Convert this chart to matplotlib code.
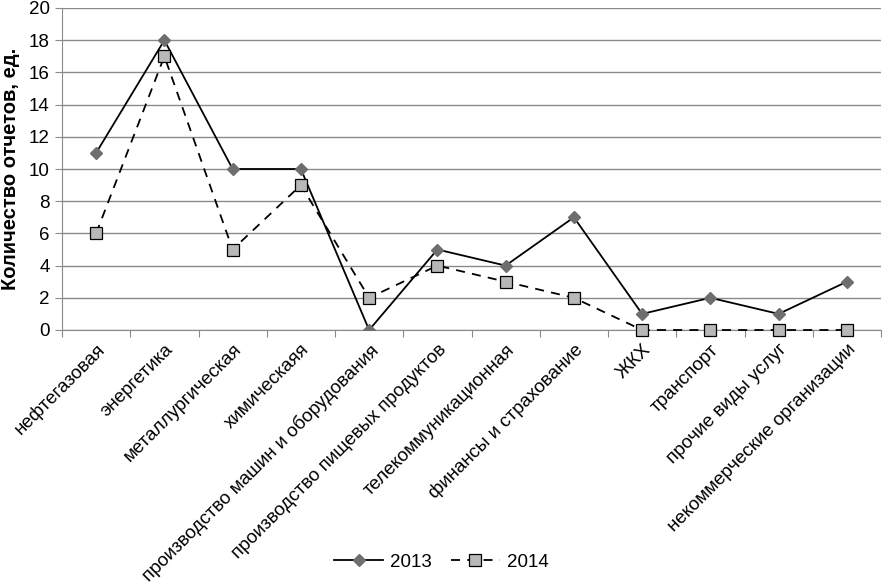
import matplotlib
matplotlib.use('Agg')
import matplotlib.pyplot as plt
import numpy as np

plt.rcParams['font.family'] = ['Liberation Sans', 'DejaVu Sans']

categories = ['нефтегазовая', 'энергетика', 'металлургическая', 'химическаяя',
              'производство машин и оборудования', 'производство пищевых продуктов',
              'телекоммуникационная', 'финансы и страхование', 'ЖКХ', 'транспорт',
              'прочие виды услуг', 'некоммерческие организации']
values2013 = [11, 18, 10, 10, 0, 5, 4, 7, 1, 2, 1, 3]
values2014 = [6, 17, 5, 9, 2, 4, 3, 2, 0, 0, 0, 0]

fig = plt.figure(figsize=(8.83, 5.86), dpi=100)
ax = fig.add_axes([62 / 883, 1 - 330 / 586, (881 - 62) / 883, (330 - 8) / 586])

x = np.arange(len(categories))
ax.plot(x, values2013, color='black', lw=1.3, marker='D', markersize=6,
        markerfacecolor='#6e6e6e', markeredgecolor='#6e6e6e', label='2013', zorder=3)
ax.plot(x, values2014, color='black', lw=1.3, ls=(0, (5, 4)), marker='s', markersize=9,
        markerfacecolor='#b8b8b8', markeredgecolor='black', markeredgewidth=0.9,
        label='2014', zorder=3, clip_on=False)

ax.set_xlim(-0.5, len(categories) - 0.5)
ax.set_ylim(0, 20)
ax.set_yticks(np.arange(0, 21, 2))
ax.yaxis.grid(True, color='#8a8a8a', lw=1)
ax.set_axisbelow(True)

ax.set_xticks(np.arange(-0.5, len(categories), 1))
ax.set_xticklabels([])
ax.set_xticks(x, minor=True)
ax.set_xticklabels(categories, minor=True, rotation=45, ha='right',
                   rotation_mode='anchor', fontsize=13.5)
ax.tick_params(axis='x', which='minor', length=0, pad=8)
ax.tick_params(axis='x', which='major', length=5, color='#8a8a8a', direction='out')
ax.tick_params(axis='y', length=5, color='#8a8a8a', labelsize=13.5, pad=4)

for side in ['top', 'right']:
    ax.spines[side].set_visible(False)
for side in ['left', 'bottom']:
    ax.spines[side].set_color('#8a8a8a')

ax.set_ylabel('Количество отчетов, ед.', fontsize=14.5, fontweight='bold', labelpad=6)

fig.legend(loc='center', bbox_to_anchor=(0.5, 1 - 562 / 586), ncol=2, frameon=False,
           fontsize=13.5, handlelength=2.6, handletextpad=0.4, columnspacing=1.0)

fig.savefig('out.png', dpi=100)
